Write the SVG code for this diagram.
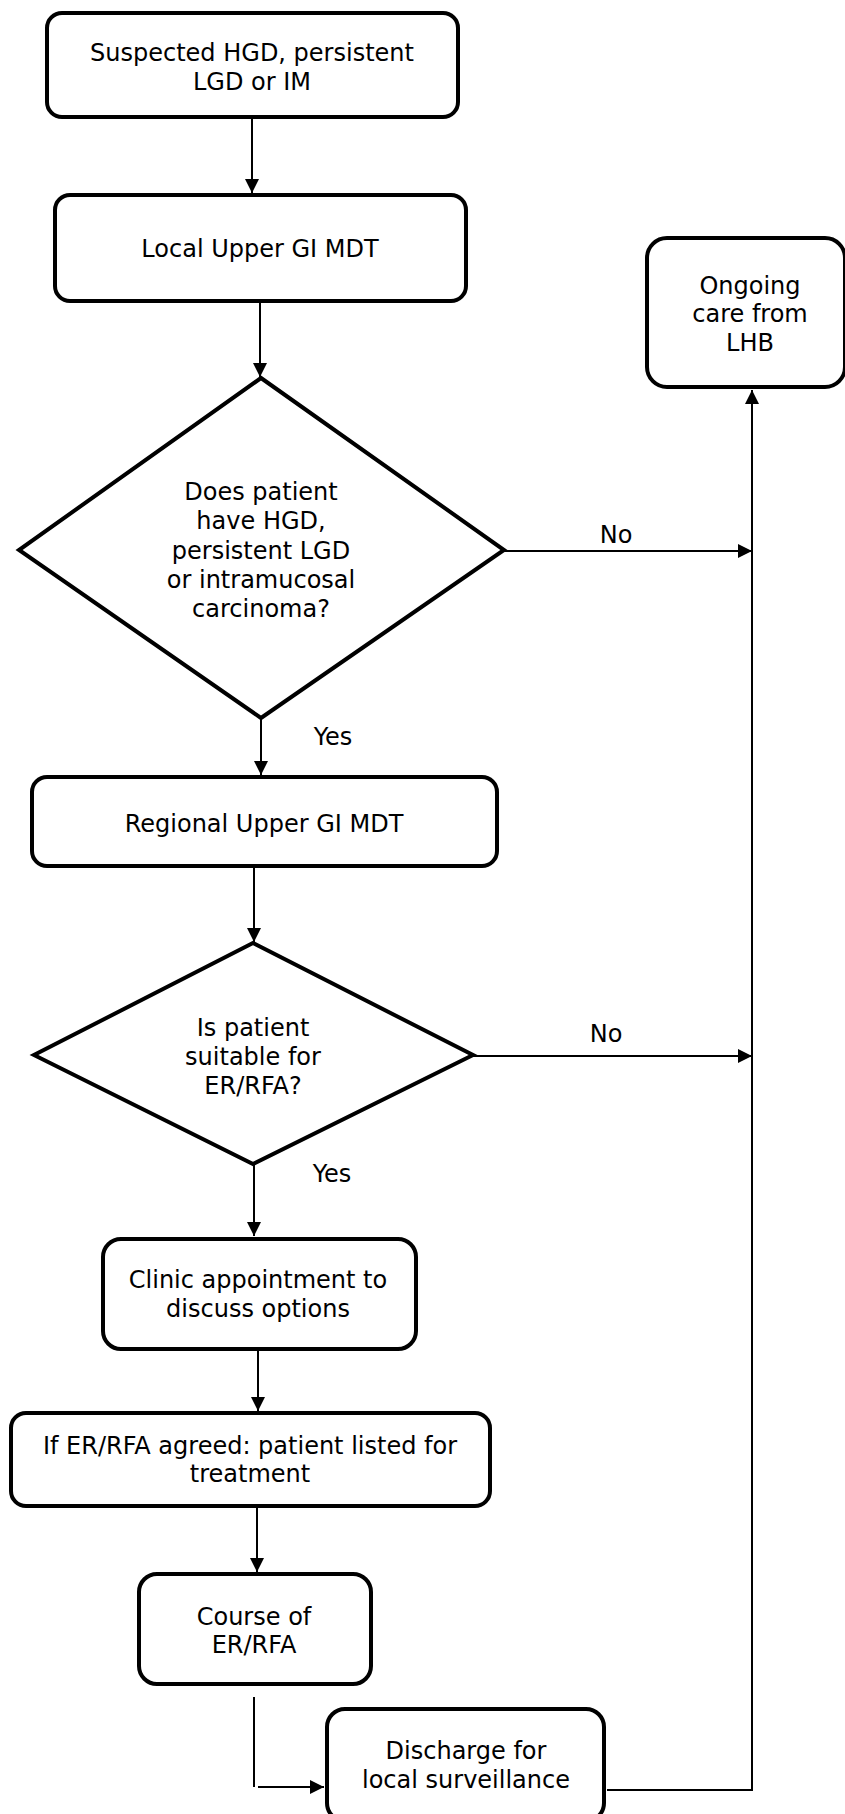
<svg xmlns="http://www.w3.org/2000/svg" width="845" height="1814" viewBox="0 0 845 1814">
<style>
.box{fill:#fff;stroke:#000;stroke-width:4}
.t{font-family:"DejaVu Sans","Verdana",sans-serif;font-size:24px;fill:#000;text-anchor:middle}
.c{fill:none;stroke:#000;stroke-width:2}
</style>
<defs>
<marker id="ah" markerUnits="userSpaceOnUse" markerWidth="16" markerHeight="16" viewBox="0 0 16 16" refX="15" refY="8" orient="auto">
<path d="M1,1 L15,8 L1,15 Z" fill="#000"/>
</marker>
</defs>
<rect width="845" height="1814" fill="#fff"/>
<g id="connectors">
<path class="c" d="M252,118 V193" marker-end="url(#ah)"/>
<path class="c" d="M260,297 V377" marker-end="url(#ah)"/>
<path class="c" d="M504,551 H752" marker-end="url(#ah)"/>
<path class="c" d="M261,718 V775" marker-end="url(#ah)"/>
<path class="c" d="M254,867 V942" marker-end="url(#ah)"/>
<path class="c" d="M473,1056 H752" marker-end="url(#ah)"/>
<path class="c" d="M254,1164 V1236" marker-end="url(#ah)"/>
<path class="c" d="M258,1350 V1411" marker-end="url(#ah)"/>
<path class="c" d="M257,1508 V1572" marker-end="url(#ah)"/>
<path class="c" d="M254,1697 V1787"/>
<path class="c" d="M258,1787 H324" marker-end="url(#ah)"/>
<path class="c" d="M607,1790 H752 V390" marker-end="url(#ah)"/>
<text class="t" x="616" y="543">No</text>
<text class="t" x="333" y="745">Yes</text>
<text class="t" x="606" y="1042">No</text>
<text class="t" x="332" y="1182">Yes</text>
</g>
<g id="n1">
<rect class="box" x="47" y="13" width="411" height="104" rx="15"/>
<text class="t" x="252" y="61">Suspected HGD, persistent</text>
<text class="t" x="252" y="90">LGD or IM</text>
</g>
<g id="n2">
<rect class="box" x="55" y="195" width="411" height="106" rx="15"/>
<text class="t" x="260" y="257">Local Upper GI MDT</text>
</g>
<g id="n3">
<polygon class="box" points="261,378 504,550 261,718 19,550"/>
<text class="t" x="261" y="500">Does patient</text>
<text class="t" x="261" y="529">have HGD,</text>
<text class="t" x="261" y="559">persistent LGD</text>
<text class="t" x="261" y="588">or intramucosal</text>
<text class="t" x="261" y="617">carcinoma?</text>
</g>
<g id="n4">
<rect class="box" x="647" y="238" width="198" height="149" rx="20"/>
<text class="t" x="750" y="294">Ongoing</text>
<text class="t" x="750" y="322">care from</text>
<text class="t" x="750" y="351">LHB</text>
</g>
<g id="n5">
<rect class="box" x="32" y="777" width="465" height="89" rx="15"/>
<text class="t" x="264" y="832">Regional Upper GI MDT</text>
</g>
<g id="n6">
<polygon class="box" points="253,943 473,1055 253,1164 34,1055"/>
<text class="t" x="253" y="1036">Is patient</text>
<text class="t" x="253" y="1065">suitable for</text>
<text class="t" x="253" y="1094">ER/RFA?</text>
</g>
<g id="n7">
<rect class="box" x="103" y="1239" width="313" height="110" rx="18"/>
<text class="t" x="258" y="1288">Clinic appointment to</text>
<text class="t" x="258" y="1317">discuss options</text>
</g>
<g id="n8">
<rect class="box" x="11" y="1413" width="479" height="93" rx="15"/>
<text class="t" x="250" y="1454">If ER/RFA agreed: patient listed for</text>
<text class="t" x="250" y="1482">treatment</text>
</g>
<g id="n9">
<rect class="box" x="139" y="1574" width="232" height="110" rx="18"/>
<text class="t" x="254" y="1625">Course of</text>
<text class="t" x="254" y="1653">ER/RFA</text>
</g>
<g id="n10">
<rect class="box" x="327" y="1709" width="277" height="112" rx="18"/>
<text class="t" x="466" y="1759">Discharge for</text>
<text class="t" x="466" y="1788">local surveillance</text>
</g>
</svg>
